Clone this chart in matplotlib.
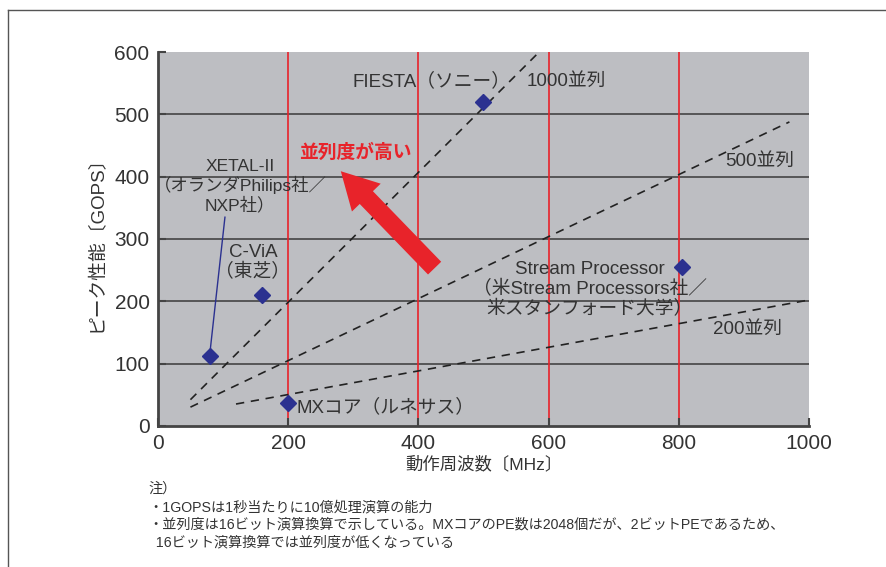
import matplotlib
matplotlib.use("Agg")
import matplotlib.pyplot as plt
from matplotlib.patches import FancyArrowPatch
from matplotlib.lines import Line2D

plt.rcParams['font.family'] = ['Liberation Sans', 'Noto Sans CJK JP', 'DejaVu Sans']

# data
chips = ["XETAL-II", "C-ViA", "MX", "FIESTA", "Stream Processor"]
freq_mhz = [80, 160, 200, 500, 805]
gops = [112, 210, 37, 520, 255]

# dashed parallelism guide lines (endpoints)
par1000_x = [50, 595]
par1000_y = [42, 610]
par500_x = [50, 970]
par500_y = [30, 488]
par200_x = [120, 1000]
par200_y = [35, 202]

xticks = [0, 200, 400, 600, 800, 1000]
yticks = [0, 100, 200, 300, 400, 500, 600]
red_lines = [200, 400, 600, 800]
grid_lines = [100, 200, 300, 400, 500]

text_col = "#333333"
marker_col = "#2B3190"
red = "#E8232A"

fig = plt.figure(figsize=(8.87, 5.67), dpi=100)
ax = fig.add_axes([0.178, 0.249, 0.734, 0.659])
ax.set_facecolor("#BDBEC2")
ax.set_xlim(0, 1000)
ax.set_ylim(0, 600)

for y in grid_lines:
    ax.axhline(y, color="#3a3a3a", lw=1.1, zorder=1)
for x in red_lines:
    ax.axvline(x, color=red, lw=1.2, zorder=1)

dash = dict(color="#222222", lw=1.2, ls=(0, (5, 4)), zorder=2)
ax.plot(par1000_x, par1000_y, **dash)
ax.plot(par500_x, par500_y, **dash)
ax.plot(par200_x, par200_y, **dash)

ax.plot(freq_mhz, gops, ls="none", marker="D", ms=8.5, color=marker_col, zorder=4)

# leader line for XETAL-II
ax.plot([103, 80], [335, 118], color=marker_col, lw=1.0, zorder=3)

fs = 13.5
ls = 1.15
ax.text(420, 553, "FIESTA（ソニー）", ha="center", va="center", fontsize=fs, color=text_col)
ax.text(628, 553, "1000並列", ha="center", va="center", fontsize=fs, color=text_col)
ax.text(925, 424, "500並列", ha="center", va="center", fontsize=fs, color=text_col)
ax.text(906, 154, "200並列", ha="center", va="center", fontsize=fs, color=text_col)
ax.text(126, 385, "XETAL-II\n（オランダPhilips社／\nNXP社）", ha="center", va="center",
        fontsize=12.5, color=text_col, linespacing=ls)
ax.text(146, 262, "C-ViA\n（東芝）", ha="center", va="center", fontsize=fs,
        color=text_col, linespacing=ls)
ax.text(213, 30, "MXコア（ルネサス）", ha="left", va="center", fontsize=fs, color=text_col)
ax.text(663, 219, "Stream Processor\n（米Stream Processors社／\n米スタンフォード大学）",
        ha="center", va="center", fontsize=fs, color=text_col, linespacing=ls)
ax.text(303, 438, "並列度が高い", ha="center", va="center", fontsize=13.5,
        color=red, fontweight="bold")

arrow = FancyArrowPatch((428, 250), (278, 412),
                        arrowstyle="simple,head_width=2.4,head_length=2.2,tail_width=1.1",
                        mutation_scale=12, color=red, lw=0, zorder=5)
ax.add_patch(arrow)

ax.set_xticks(xticks)
ax.set_yticks(yticks)
ax.tick_params(direction="in", length=6, width=1.5, colors="#444444",
               labelsize=15, labelcolor=text_col, pad=6)
for s in ["top", "right"]:
    ax.spines[s].set_visible(False)
for s in ["left", "bottom"]:
    ax.spines[s].set_color("#444444")
    ax.spines[s].set_linewidth(2)

ax.set_xlabel("動作周波数〔MHz〕", fontsize=12.5, color=text_col, labelpad=2)
ax.set_ylabel("ピーク性能〔GOPS〕", fontsize=13.5, color=text_col, labelpad=6)

notes = ("注）\n"
         "・1GOPSは1秒当たりに10億処理演算の能力\n"
         "・並列度は16ビット演算換算で示している。MXコアのPE数は2048個だが、2ビットPEであるため、\n"
         "  16ビット演算換算では並列度が低くなっている")
fig.text(148 / 887, 1 - 482 / 567, notes, ha="left", va="top", fontsize=10.2,
         color=text_col, linespacing=1.36)

# outer frame (top and left edges)
fig.add_artist(Line2D([8 / 887, 1.0], [1 - 10 / 567, 1 - 10 / 567], color="#555555", lw=1))
fig.add_artist(Line2D([8 / 887, 8 / 887], [0, 1 - 10 / 567], color="#555555", lw=1))

fig.savefig("out.png", dpi=100)
